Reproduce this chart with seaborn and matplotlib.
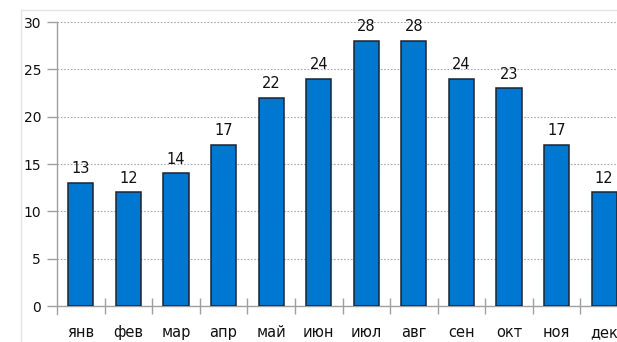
import matplotlib
matplotlib.use("Agg")
import matplotlib.pyplot as plt
import seaborn as sns
import pandas as pd
import numpy as np
from matplotlib.patches import Rectangle

months = ["янв", "фев", "мар", "апр", "май", "июн", "июл", "авг", "сен", "окт", "ноя", "дек"]
temps = [13, 12, 14, 17, 22, 24, 28, 28, 24, 23, 17, 12]
y_ticks = [0, 5, 10, 15, 20, 25, 30]

sns.set_theme(style="ticks")
plt.rcParams["font.family"] = ["DejaVu Sans"]

df = pd.DataFrame({"month": months, "temp": temps})

fig = plt.figure(figsize=(6.17, 3.42), dpi=100)
fig.patch.set_facecolor("white")

# faint outer frame
fig.patches.append(Rectangle((21 / 617, -0.1), 1.2, (342 - 10) / 342 + 0.1,
                             transform=fig.transFigure, fill=False,
                             edgecolor="#e4e4e4", linewidth=1.0, zorder=0))

ax = fig.add_axes([57 / 617, (342 - 306) / 342, 571 / 617, 284 / 342])
ax.set_facecolor("none")

sns.barplot(data=df, x="month", y="temp", color="#0078d2", width=0.53,
            edgecolor="#1b2434", linewidth=1.1, saturation=1, ax=ax, zorder=3)

ax.set_xlim(-0.5, len(months) - 0.5)
ax.set_ylim(0, 30)
ax.set_xlabel("")
ax.set_ylabel("")

for i, v in enumerate(temps):
    ax.text(i, v + 0.7, str(v), ha="center", va="bottom", fontsize=10.5,
            color="#111111", zorder=4)

ax.set_yticks(y_ticks)
ax.set_yticklabels([str(t) for t in y_ticks], fontsize=10, color="#111111")
ax.yaxis.grid(True, color="#a8a8a8", linestyle=(0, (1.5, 1.5)), linewidth=0.8, zorder=0)
ax.xaxis.grid(False)

ax.set_xticks(range(len(months)))
ax.set_xticklabels(months, fontsize=10.5, color="#111111")
ax.set_xticks(np.arange(0.5, len(months) - 0.5, 1.0), minor=True)
ax.tick_params(axis="x", which="major", length=0, pad=13.5, bottom=True)
ax.tick_params(axis="x", which="minor", length=11.5, direction="inout",
               color="#a0a0a0", width=1.0, bottom=True)
ax.tick_params(axis="y", which="major", length=7.2, direction="out",
               color="#a0a0a0", width=1.0, pad=4.3, left=True)
ax.tick_params(axis="y", which="minor", left=False)

for side in ["top", "right"]:
    ax.spines[side].set_visible(False)
for side in ["left", "bottom"]:
    ax.spines[side].set_color("#a0a0a0")
    ax.spines[side].set_linewidth(1.0)
ax.spines["left"].set_bounds(-0.8, 30)

fig.savefig("out.png", dpi=100)
